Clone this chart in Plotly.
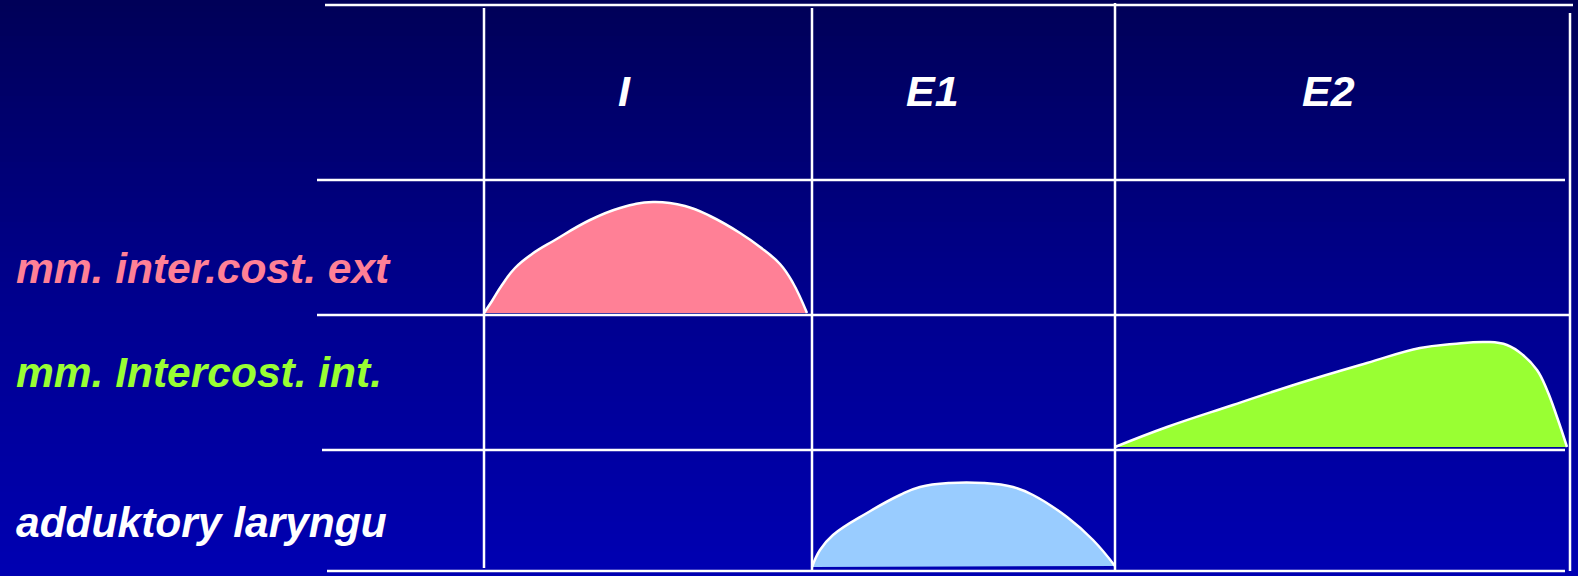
import numpy as np
import plotly.graph_objects as go

W, H = 1578, 576

# phases (columns) and muscles (rows)
phases = ["I", "E1", "E2"]
phase_label_x = [624, 932, 1328]
muscles = ["mm. inter.cost. ext", "mm. Intercost. int.", "adduktory laryngu"]
muscle_colors = ["#ff8096", "#99ff33", "white"]
muscle_label_y = [268, 372, 522]

# grid lines: (position, start, end)
h_lines = [(5, 325, 1573), (180, 317, 1565), (315, 317, 1570), (450, 322, 1565), (571, 327, 1565)]
v_lines = [(484, 8, 568), (812, 8, 571), (1115, 3, 571), (1570, 13, 571)]

# activity profiles (screen units)
ext_x = [484, 492, 502, 515, 532, 555, 590, 620, 653, 685, 710, 740, 760, 780, 793, 807]
ext_y = [313, 301, 285, 268, 254, 240, 220, 208, 202, 206, 216, 233, 247, 264, 283, 313]

int_x = [1115, 1167, 1233, 1300, 1367, 1420, 1453, 1487, 1507, 1523, 1537, 1547, 1557, 1567]
int_y = [447, 427, 405, 383, 363, 348, 344, 342, 345, 355, 370, 390, 417, 447]

add_x = [812, 820, 833, 867, 900, 920, 950, 983, 1013, 1033, 1067, 1093, 1115]
add_y = [567, 550, 535, 513, 495, 487, 483, 483, 487, 495, 517, 540, 566]

fills = ["#ff8096", "#99ff33", "#99ccff"]

fig = go.Figure()

# background gradient
bands = 96
fig.add_trace(go.Heatmap(
    x=[0, W],
    y=np.linspace(0, H, bands + 1),
    z=np.linspace(0, 1, bands).reshape(-1, 1),
    colorscale=[[0, "rgb(0,0,88)"], [0.5, "rgb(0,0,140)"], [1, "rgb(0,0,178)"]],
    showscale=False,
    hoverinfo="skip",
))

for (cx, cy), fc in zip([(ext_x, ext_y), (int_x, int_y), (add_x, add_y)], fills):
    # baseline then curve, filled between them
    fig.add_trace(go.Scatter(
        x=[cx[0], cx[-1]], y=[cy[0], cy[-1]], mode="lines",
        line=dict(width=0, color="rgba(0,0,0,0)"), showlegend=False, hoverinfo="skip",
    ))
    fig.add_trace(go.Scatter(
        x=cx, y=cy, mode="lines", fill="tonexty", fillcolor=fc,
        line=dict(color="white", width=2.5, shape="spline", smoothing=1.2),
        showlegend=False, hoverinfo="skip",
    ))

shapes = []
for y, x0, x1 in h_lines:
    shapes.append(dict(type="line", xref="x", yref="y", x0=x0, x1=x1, y0=y, y1=y,
                       line=dict(color="white", width=2.5), layer="above"))
for x, y0, y1 in v_lines:
    shapes.append(dict(type="line", xref="x", yref="y", x0=x, x1=x, y0=y0, y1=y1,
                       line=dict(color="white", width=2.5), layer="above"))

annotations = []
for name, x in zip(phases, phase_label_x):
    annotations.append(dict(x=x, y=91, text=name, showarrow=False, xanchor="center", yanchor="middle",
                            font=dict(family="Liberation Sans", size=43, color="white",
                                      weight="bold", style="italic")))
for name, y, c in zip(muscles, muscle_label_y, muscle_colors):
    annotations.append(dict(x=14, y=y, text=name, showarrow=False, xanchor="left", yanchor="middle",
                            font=dict(family="Liberation Sans", size=42.5, color=c,
                                      weight="bold", style="italic")))

fig.update_layout(
    width=W, height=H,
    margin=dict(l=0, r=0, t=0, b=0),
    paper_bgcolor="rgb(0,0,120)",
    plot_bgcolor="rgb(0,0,120)",
    xaxis=dict(range=[0, W], visible=False, fixedrange=True),
    yaxis=dict(range=[H, 0], visible=False, fixedrange=True),
    shapes=shapes,
    annotations=annotations,
)

fig.write_html("out.html", config={"displayModeBar": False},
               post_script="document.body.style.margin='0';document.body.style.overflow='hidden';")
